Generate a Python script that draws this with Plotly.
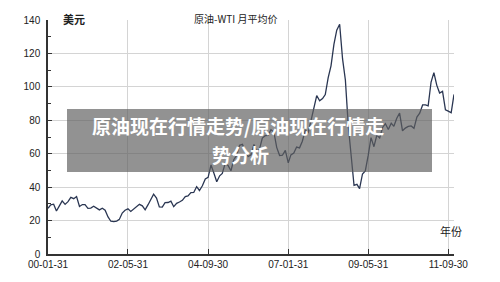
import pandas as pd
import plotly.graph_objects as go

# Monthly WTI average prices (USD), 2000-01 .. 2011-11
y2000 = [27.3, 29.4, 29.8, 25.7, 28.8, 31.8, 29.7, 31.3, 33.9, 33.1, 34.4, 28.4]
y2001 = [29.6, 29.6, 27.3, 27.5, 28.6, 27.6, 26.4, 27.4, 26.2, 22.2, 19.6, 19.4]
y2002 = [19.7, 20.7, 24.5, 26.2, 27.0, 25.5, 27.0, 28.4, 29.7, 28.8, 26.4, 29.5]
y2003 = [33.0, 35.8, 33.5, 28.2, 28.1, 30.7, 30.8, 31.6, 28.3, 30.3, 31.1, 32.1]
y2004 = [34.3, 34.7, 36.7, 36.8, 40.3, 38.0, 40.8, 44.9, 45.9, 53.3, 48.5, 43.2]
y2005 = [46.8, 48.2, 54.2, 53.0, 49.8, 56.4, 59.0, 65.0, 65.6, 62.3, 58.3, 59.4]
y2006 = [65.5, 61.6, 62.7, 69.4, 70.8, 71.0, 74.4, 73.0, 63.8, 58.9, 59.1, 62.0]
y2007 = [54.5, 59.3, 60.4, 64.0, 63.5, 67.5, 74.1, 72.4, 79.9, 85.8, 94.8, 91.7]
y2008 = [93.0, 95.4, 105.5, 112.6, 125.4, 133.9, 137.5, 116.7, 104.1, 76.6, 57.3, 41.1]
y2009 = [41.7, 39.1, 47.9, 49.7, 59.0, 69.6, 64.2, 71.1, 69.4, 75.7, 78.0, 74.5]
y2010 = [78.3, 76.4, 81.2, 84.3, 73.7, 75.3, 76.3, 76.6, 75.2, 81.9, 84.3, 89.2]
y2011 = [89.2, 88.6, 102.9, 108.5, 100.9, 96.3, 97.3, 86.3, 85.5, 84.5, 95.5]

prices = y2000 + y2001 + y2002 + y2003 + y2004 + y2005 + y2006 + y2007 + y2008 + y2009 + y2010 + y2011
dates = pd.date_range("2000-01-31", periods=len(prices), freq="ME")

tick_dates = ["2000-01-31", "2002-05-31", "2004-09-30", "2007-01-31", "2009-05-31", "2011-09-30"]
tick_labels = ["00-01-31", "02-05-31", "04-09-30", "07-01-31", "09-05-31", "11-09-30"]
y_ticks = [0, 20, 40, 60, 80, 100, 120, 140]

fig = go.Figure()
fig.add_trace(go.Scatter(
    x=dates, y=prices, mode="lines",
    line=dict(color="#2a3652", width=1.3),
    hoverinfo="skip", showlegend=False,
))

axis_font = dict(family="Liberation Sans, Arial, sans-serif", size=10, color="#222")
fig.update_layout(
    width=500, height=282,
    margin=dict(l=48, r=46, t=20, b=28),
    paper_bgcolor="white", plot_bgcolor="white",
    xaxis=dict(
        range=["2000-01-31", "2011-11-30"],
        tickvals=tick_dates, ticktext=tick_labels,
        tickfont=axis_font, ticks="inside", ticklen=5, tickcolor="#333",
        showgrid=True, gridcolor="#d4d4d4", gridwidth=1,
        showline=True, linecolor="#333", linewidth=1.5,
        zeroline=False,
    ),
    yaxis=dict(
        range=[0, 140], tickvals=y_ticks,
        tickfont=axis_font, ticks="inside", ticklen=4, tickcolor="#333",
        minor=dict(dtick=10, ticks="inside", ticklen=3, tickcolor="#333", showgrid=False),
        showgrid=True, gridcolor="#d4d4d4", gridwidth=1,
        showline=True, linecolor="#333", linewidth=1.5,
        zeroline=False, ticklabelstandoff=4,
    ),
    font=dict(family="Noto Sans CJK SC"),
)

cjk = "Noto Sans CJK SC"
fig.add_annotation(text="<b>美元</b>", xref="paper", yref="paper", x=(61 - 48) / 406, y=(254 - 9) / 234,
                   showarrow=False, font=dict(family=cjk, size=11, color="#222"))
fig.add_annotation(text="原油-WTI 月平均价", xref="paper", yref="paper", x=(235 - 48) / 406, y=(254 - 9) / 234,
                   showarrow=False, font=dict(family=cjk, size=10, color="#222"))
fig.add_annotation(text="年份", xref="paper", yref="paper", x=(464 - 48) / 406, y=(254 - 241) / 234,
                   showarrow=False, font=dict(family=cjk, size=11, color="#222"))

# Watermark overlay
fig.add_shape(type="rect", xref="paper", yref="paper",
              x0=(67 - 48) / 406, x1=(432 - 48) / 406,
              y0=(254 - 172) / 234, y1=(254 - 109) / 234,
              fillcolor="rgba(95,95,95,0.68)", line=dict(width=0), layer="above")
fig.add_annotation(text="<b>原油现在行情走势/原油现在行情走</b>",
                   xref="paper", yref="paper", x=(238 - 48) / 406, y=(254 - 126) / 234,
                   showarrow=False, align="center",
                   font=dict(family=cjk, size=19, color="white"))
fig.add_annotation(text="<b>势分析</b>",
                   xref="paper", yref="paper", x=(240 - 48) / 406, y=(254 - 154) / 234,
                   showarrow=False, align="center",
                   font=dict(family=cjk, size=19, color="white"))

fig.write_html("out.html")
